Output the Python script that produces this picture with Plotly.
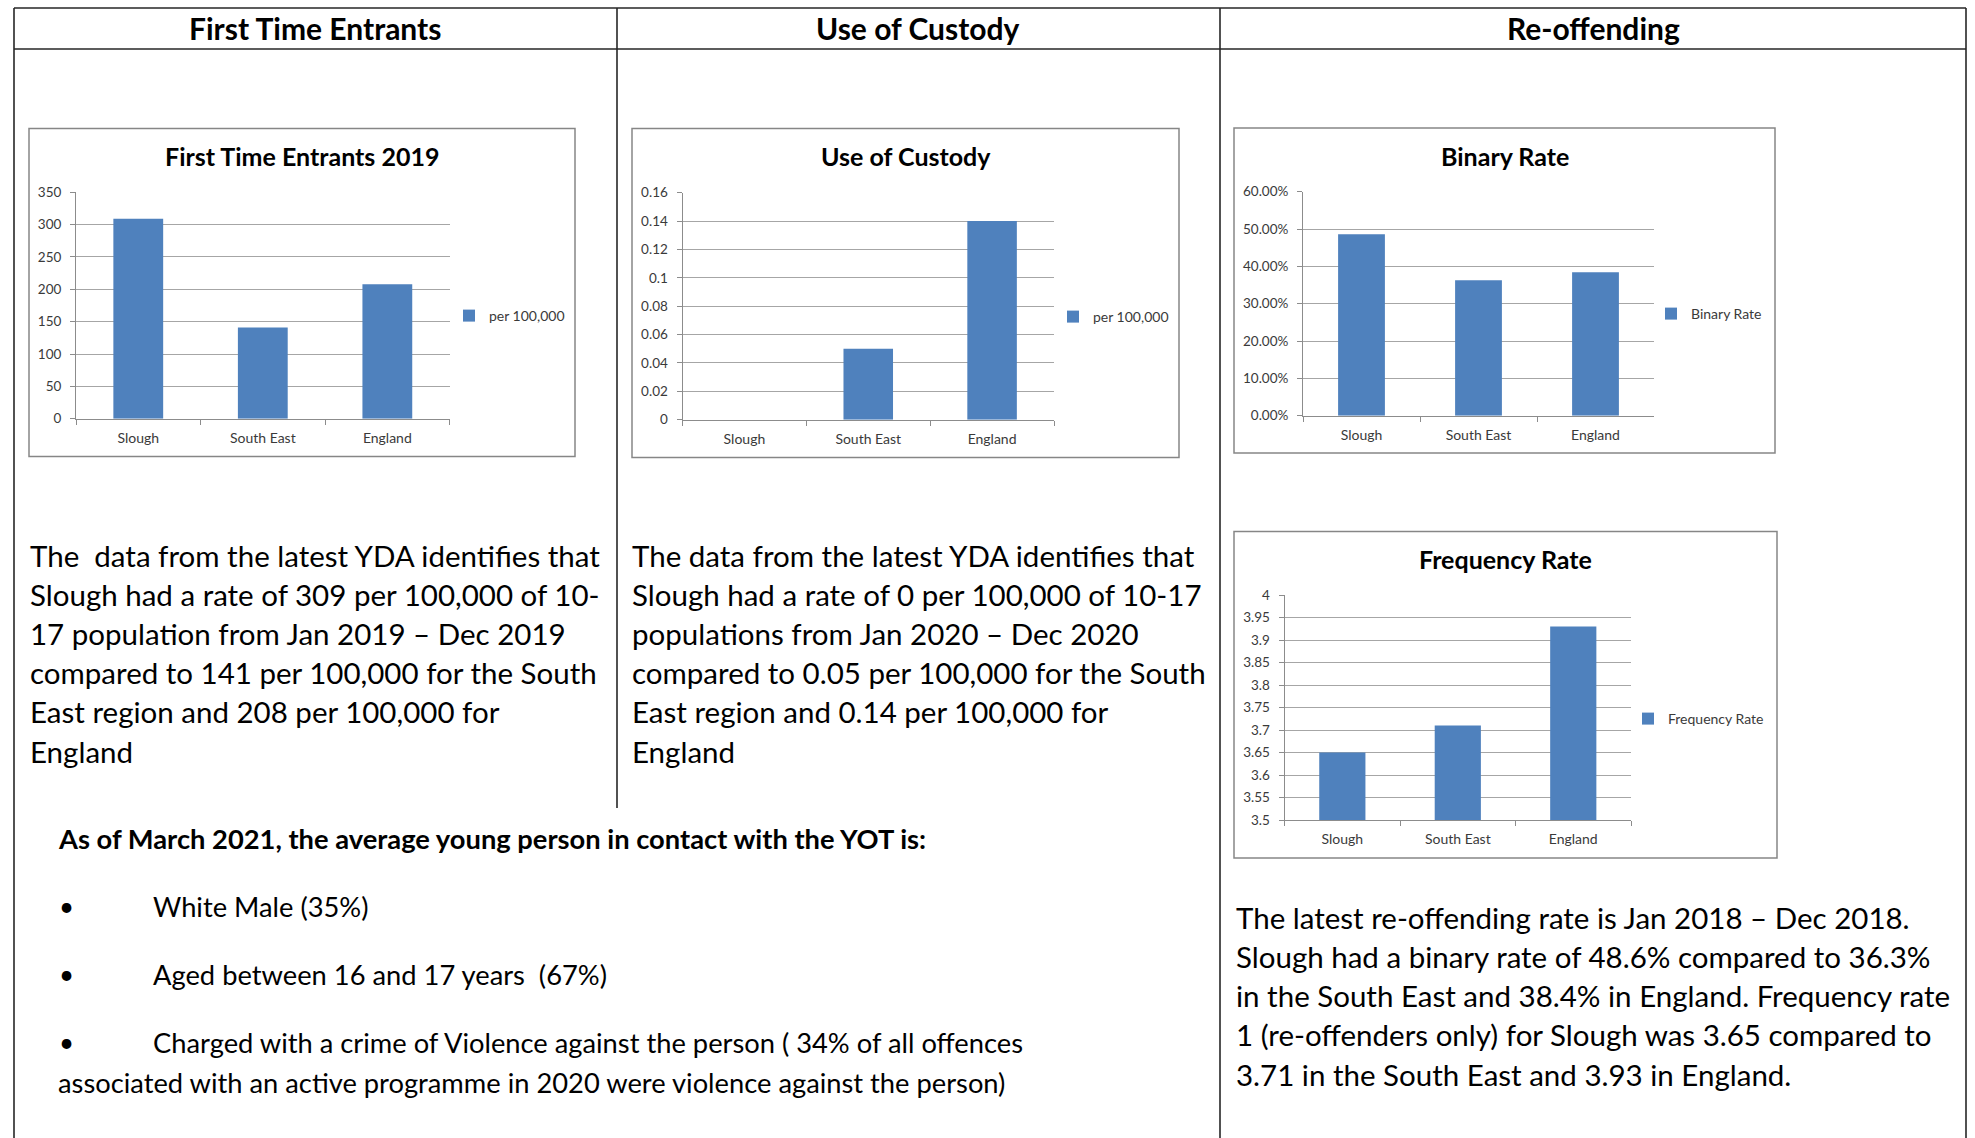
import plotly.graph_objects as go

# ---------------- data ----------------
categories = ["Slough", "South East", "England"]

fte_values = [309, 141, 208]
custody_values = [0, 0.05, 0.14]
binary_values = [0.486, 0.363, 0.384]
frequency_values = [3.65, 3.71, 3.93]

fte_ticks = [0, 50, 100, 150, 200, 250, 300, 350]
custody_ticks = [0, 0.02, 0.04, 0.06, 0.08, 0.1, 0.12, 0.14, 0.16]
binary_ticks = [0, 0.1, 0.2, 0.3, 0.4, 0.5, 0.6]
frequency_ticks = [3.5, 3.55, 3.6, 3.65, 3.7, 3.75, 3.8, 3.85, 3.9, 3.95, 4]

column_headers = ["First Time Entrants", "Use of Custody", "Re-offending"]
chart_titles = ["First Time Entrants 2019", "Use of Custody", "Binary Rate", "Frequency Rate"]
series_names = ["per 100,000", "per 100,000", "Binary Rate", "Frequency Rate"]

fte_text = [
    "The\u00a0 data from the latest YDA identifies that",
    "Slough had a rate of 309 per 100,000 of 10-",
    "17 population from Jan 2019 \u2013 Dec 2019",
    "compared to 141 per 100,000 for the South",
    "East region and 208 per 100,000 for",
    "England",
]
custody_text = [
    "The data from the latest YDA identifies that",
    "Slough had a rate of 0 per 100,000 of 10-17",
    "populations from Jan 2020 \u2013 Dec 2020",
    "compared to 0.05 per 100,000 for the South",
    "East region and 0.14 per 100,000 for",
    "England",
]
reoffending_text = [
    "The latest re-offending rate is Jan 2018 \u2013 Dec 2018.",
    "Slough had a binary rate of 48.6% compared to 36.3%",
    "in the South East and 38.4% in England. Frequency rate",
    "1 (re-offenders only) for Slough was 3.65 compared to",
    "3.71 in the South East and 3.93 in England.",
]
yot_heading = "As of March 2021, the average young person in contact with the YOT is:"
yot_bullets = [
    "White Male (35%)",
    "Aged between 16 and 17 years\u00a0 (67%)",
    "Charged with a crime of Violence against the person ( 34% of all offences",
]
yot_continuation = "associated with an active programme in 2020 were violence against the person)"

# ---------------- layout helpers ----------------
W, H = 1975, 1138
FONT = "Lato"
BAR_COLOR = "#4F81BD"
GRID = "#a6a6a6"
AXIS = "#8c8c8c"
TICKFONT = dict(family=FONT, size=13.5, color="#3a3a3a")
CATFONT = dict(family=FONT, size=14, color="#3a3a3a")


def fx(x):
    return x / W


def fy(y):
    return 1 - y / H


charts = [
    dict(values=fte_values, ticks=fte_ticks, rng=[0, 350], fmt=None,
         xd=(76, 449.6), yd=(192.3, 418.7), box=(29, 128.5, 575, 456.5),
         title=(302, 156), legend=(449, 316)),
    dict(values=custody_values, ticks=custody_ticks, rng=[0, 0.16], fmt=None,
         xd=(682.5, 1054), yd=(192.7, 419.7), box=(632, 128.5, 1179, 457.5),
         title=(906, 156), legend=(1053, 317)),
    dict(values=binary_values, ticks=binary_ticks, rng=[0, 0.6], fmt=".2%",
         xd=(1303, 1654), yd=(191.7, 415.7), box=(1234, 128, 1775, 453),
         title=(1505, 156), legend=(1651, 314)),
    dict(values=frequency_values, ticks=frequency_ticks, rng=[3.5, 4], fmt=None,
         xd=(1284.6, 1631), yd=(595, 820), box=(1234, 531.5, 1777, 858),
         title=(1505, 559), legend=(1628, 719)),
]

fig = go.Figure()
shapes = []
annotations = []
layout = dict(
    width=W, height=H,
    margin=dict(l=0, r=0, t=0, b=0, pad=0, autoexpand=False),
    paper_bgcolor="white", plot_bgcolor="white",
    bargap=0.6, showlegend=True, hovermode=False,
    font=dict(family=FONT, color="#000000"),
)

for i, c in enumerate(charts):
    n = "" if i == 0 else str(i + 1)
    leg = "legend" if i == 0 else "legend" + n
    fig.add_trace(go.Bar(
        x=categories, y=c["values"], name=series_names[i],
        marker=dict(color=BAR_COLOR, line=dict(width=0)),
        xaxis="x" + n, yaxis="y" + n, legend=leg, showlegend=True,
    ))
    layout["xaxis" + n] = dict(
        domain=[fx(c["xd"][0]), fx(c["xd"][1])], anchor="y" + n,
        type="category", showgrid=False, zeroline=False,
        showline=True, linecolor=AXIS, linewidth=1,
        ticks="outside", ticklen=5, tickcolor=AXIS, tickwidth=1,
        tickson="boundaries", tickfont=CATFONT, ticklabelstandoff=6,
        fixedrange=True,
    )
    layout["yaxis" + n] = dict(
        domain=[fy(c["yd"][1]), fy(c["yd"][0])], anchor="x" + n,
        range=c["rng"], tickvals=c["ticks"], tickformat=c["fmt"],
        showgrid=True, gridcolor=GRID, gridwidth=1, zeroline=False,
        showline=True, linecolor=AXIS, linewidth=1,
        ticks="outside", ticklen=5, tickcolor=AXIS, tickwidth=1,
        tickfont=TICKFONT, ticklabelstandoff=6, fixedrange=True,
    )
    layout[leg] = dict(
        x=fx(c["legend"][0]), y=fy(c["legend"][1]), xanchor="left", yanchor="middle",
        bgcolor="rgba(0,0,0,0)", borderwidth=0, itemwidth=30,
        font=dict(family=FONT, size=14, color="#3a3a3a"),
    )
    x0, y0, x1, y1 = c["box"]
    shapes.append(dict(type="rect", xref="paper", yref="paper", layer="below",
                       x0=fx(x0), x1=fx(x1), y0=fy(y0), y1=fy(y1),
                       line=dict(color="#868686", width=1.5), fillcolor="white"))
    annotations.append(dict(text="<b>%s</b>" % chart_titles[i], x=fx(c["title"][0]), y=fy(c["title"][1]),
                            xref="paper", yref="paper", xanchor="center", yanchor="middle",
                            showarrow=False, font=dict(family=FONT, size=25, color="#000")))

# table lines
TL = dict(color="#262626", width=1.6)
def hline(y, x0, x1):
    shapes.append(dict(type="line", xref="paper", yref="paper", x0=fx(x0), x1=fx(x1),
                       y0=fy(y), y1=fy(y), line=TL))
def vline(x, y0, y1):
    shapes.append(dict(type="line", xref="paper", yref="paper", x0=fx(x), x1=fx(x),
                       y0=fy(y0), y1=fy(y1), line=TL))

hline(8, 14, 1966)
hline(49, 14, 1966)
vline(14, 8, H + 2)
vline(1966, 8, H + 2)
vline(617, 8, 808)
vline(1220, 8, H + 2)

# column headers
for txt, cx in zip(column_headers, [315, 918, 1593]):
    annotations.append(dict(text="<b>%s</b>" % txt, x=fx(cx), y=fy(28), xref="paper", yref="paper",
                            xanchor="center", yanchor="middle", showarrow=False,
                            font=dict(family=FONT, size=30, color="#000")))

BODY = dict(family=FONT, size=29.5, color="#000")
def text_line(txt, x, y, font=BODY):
    annotations.append(dict(text=txt, x=fx(x), y=fy(y), xref="paper", yref="paper",
                            xanchor="left", yanchor="middle", showarrow=False, font=font))

for k, t in enumerate(fte_text):
    text_line(t, 28, 555 + 39.2 * k)
for k, t in enumerate(custody_text):
    text_line(t, 630, 555 + 39.2 * k)
for k, t in enumerate(reoffending_text):
    text_line(t, 1234, 917 + 39.3 * k)

SMALL = dict(family=FONT, size=27.3, color="#000")
text_line("<b>%s</b>" % yot_heading, 56, 838, SMALL)
bullet_font = dict(family=FONT, size=26, color="#000")
for k, (t, y) in enumerate(zip(yot_bullets, [906, 974, 1042])):
    text_line("\u2022", 57, y, bullet_font)
    text_line(t, 151, y, SMALL)
text_line(yot_continuation, 56, 1082, SMALL)

layout["shapes"] = shapes
layout["annotations"] = annotations
fig.update_layout(**layout)

fig.write_html("out.html", config={"displayModeBar": False, "staticPlot": True},
               post_script="document.body.style.margin='0px';document.body.style.overflow='hidden';")
